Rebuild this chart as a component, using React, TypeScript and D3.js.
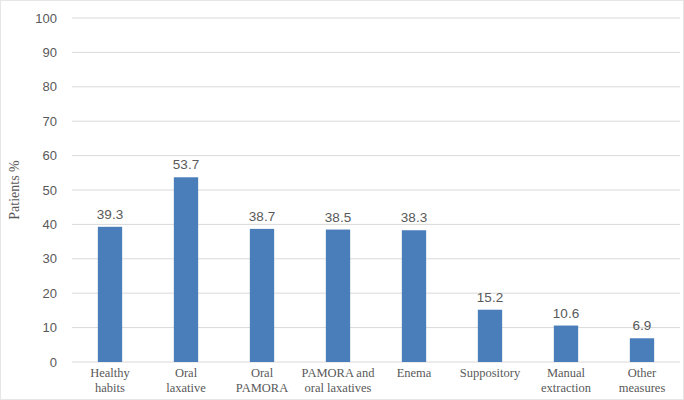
import React from "react";
import * as d3 from "d3";

const categories: string[][] = [
  ["Healthy", "habits"],
  ["Oral", "laxative"],
  ["Oral", "PAMORA"],
  ["PAMORA and", "oral laxatives"],
  ["Enema"],
  ["Suppository"],
  ["Manual", "extraction"],
  ["Other", "measures"],
];
const values: number[] = [39.3, 53.7, 38.7, 38.5, 38.3, 15.2, 10.6, 6.9];
const yTicks: number[] = [0, 10, 20, 30, 40, 50, 60, 70, 80, 90, 100];

const W = 684;
const H = 400;
const margin = { left: 72, right: 4, top: 18, bottom: 38 };

export default function App() {
  const x = d3
    .scaleBand<number>()
    .domain(values.map((_, i) => i))
    .range([margin.left, W - margin.right])
    .paddingInner(0.68)
    .paddingOuter(0.34);
  const y = d3
    .scaleLinear()
    .domain([0, 100])
    .range([H - margin.bottom, margin.top]);

  const sans = "'Liberation Sans', Arial, sans-serif";
  const serif = "'Liberation Serif', 'Times New Roman', serif";
  const gray = "#595959";

  return (
    <svg
      width={W}
      height={H}
      style={{ position: "absolute", left: 0, top: 0, background: "#fff" }}
    >
      <rect x={0.5} y={0.5} width={W - 1} height={H - 1} fill="none" stroke="#e6e6e6" />
      {yTicks.map((t) => (
        <g key={t}>
          <line
            x1={margin.left}
            x2={W - margin.right}
            y1={y(t)}
            y2={y(t)}
            stroke="#d9d9d9"
            strokeWidth={1}
          />
          <text
            x={57}
            y={y(t)}
            dy="0.35em"
            textAnchor="end"
            fontFamily={sans}
            fontSize={13}
            fill={gray}
          >
            {t}
          </text>
        </g>
      ))}
      <text
        transform={`translate(19, ${(y(0) + y(100)) / 2}) rotate(-90)`}
        textAnchor="middle"
        fontFamily={serif}
        fontSize={14}
        fill={gray}
      >
        Patients %
      </text>
      {values.map((v, i) => {
        const bx = x(i)!;
        const cx = bx + x.bandwidth() / 2;
        return (
          <g key={i}>
            <rect
              x={bx}
              y={y(v)}
              width={x.bandwidth()}
              height={y(0) - y(v)}
              fill="#4a7ebb"
            />
            <text
              x={cx}
              y={y(v) - 8}
              textAnchor="middle"
              fontFamily={sans}
              fontSize={13.5}
              fill={gray}
            >
              {v.toFixed(1)}
            </text>
            {categories[i].map((line, j) => (
              <text
                key={j}
                x={cx}
                y={y(0) + 15 + j * 14.5}
                textAnchor="middle"
                fontFamily={serif}
                fontSize={12.5}
                fill={gray}
              >
                {line}
              </text>
            ))}
          </g>
        );
      })}
    </svg>
  );
}
